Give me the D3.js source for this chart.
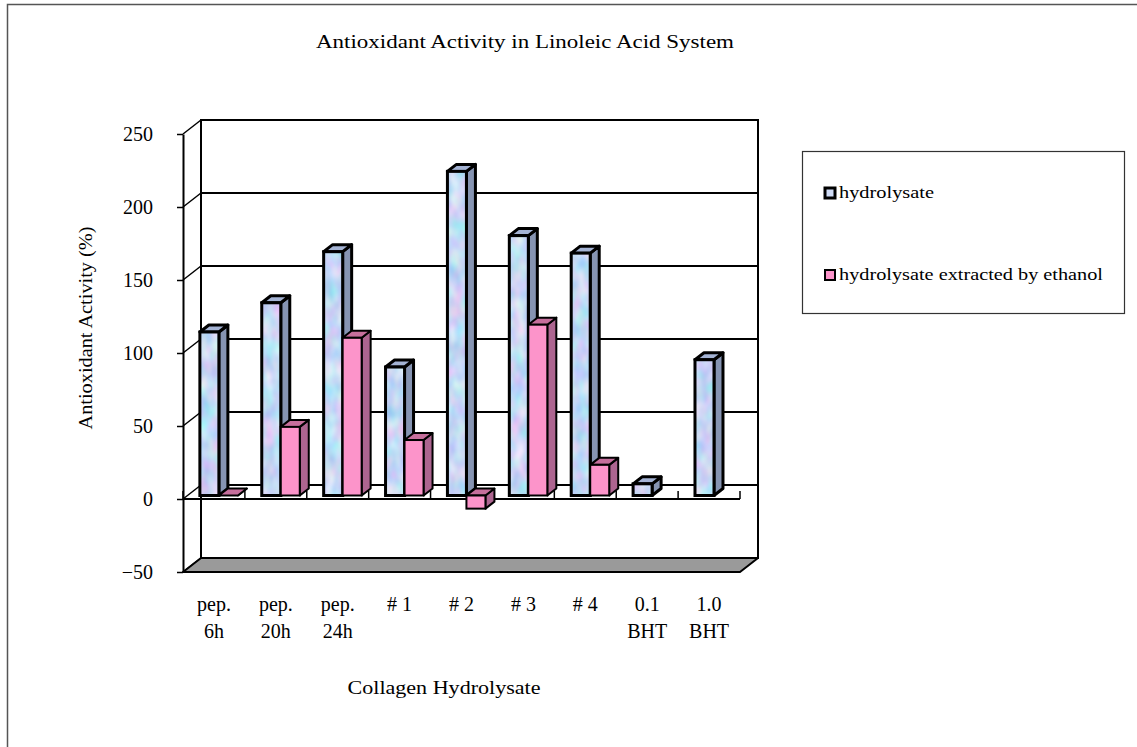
<!DOCTYPE html>
<html>
<head>
<meta charset="utf-8">
<script src="https://cdn.jsdelivr.net/npm/d3@7"></script>
<style>
  html, body { margin: 0; padding: 0; background: #fff; }
  svg { display: block; }
  text { font-family: "Liberation Serif", "Times New Roman", serif; fill: #000; }
</style>
</head>
<body>
<svg id="chart" width="1137" height="747"></svg>
<script>
// ---- data ----
const categories = ["pep.\n6h", "pep.\n20h", "pep.\n24h", "# 1", "# 2", "# 3", "# 4", "0.1\nBHT", "1.0\nBHT"];
const seriesNames = ["hydrolysate", "hydrolysate extracted by ethanol"];
const hydrolysate = [112, 132, 167, 88, 222, 178, 166, 8, 93];
const ethanolExtract = [0, 47, 108, 38, -9, 117, 21, null, null];
const yTicks = [-50, 0, 50, 100, 150, 200, 250];

const chartTitle = "Antioxidant Activity in Linoleic Acid System";
const yTitle = "Antioxidant Activity (%)";
const xTitle = "Collagen Hydrolysate";

// ---- setup ----
const svg = d3.select("#chart");
const defs = svg.append("defs");

// mottled pale blue / lavender fill for the hydrolysate bars
const f = defs.append("filter").attr("id", "mottle")
  .attr("x", 0).attr("y", 0).attr("width", 1).attr("height", 1)
  .attr("color-interpolation-filters", "sRGB");
f.append("feTurbulence").attr("type", "fractalNoise").attr("baseFrequency", "0.08 0.05")
  .attr("numOctaves", 2).attr("seed", 7).attr("result", "noise");
f.append("feColorMatrix").attr("in", "noise").attr("type", "matrix")
  .attr("values", "0.45 0 0 0 0.55  0 0.30 0 0 0.70  0 0 0.10 0 0.91  0 0 0 0 1")
  .attr("result", "tex");
f.append("feComposite").attr("in", "tex").attr("in2", "SourceAlpha").attr("operator", "in");

const palette = {
  hydrolysate: { front: "#d0dcf6", side: "#8694b2", top: "#a4b3d4", stroke: 3, tex: true },
  ethanol:     { front: "#fc94ca", side: "#ad6590", top: "#c66f9c", stroke: 2, tex: false }
};

// scales: front plane of the 3D box
const x = d3.scaleBand().domain(categories).range([183, 740]);
const y = d3.scaleLinear().domain([-50, 250]).range([572, 134]);
const depth = { dx: 18, dy: -14 };
const sub = d3.scaleBand().domain(seriesNames)
  .range([x.bandwidth() * 0.2, x.bandwidth() * 0.2 + x.bandwidth() * 0.614]);
const barShift = { dx: depth.dx * 0.25, dy: depth.dy * 0.25 };
const barDepth = { dx: 9, dy: -7 };

const xL = x.range()[0], xR = x.range()[1];
const bx = d => d + depth.dx, by = d => d + depth.dy;

// outer frame
svg.append("path").attr("d", "M7.5,747 V4.5 H1137")
  .attr("fill", "none").attr("stroke", "#555").attr("stroke-width", 1.5);

// title
svg.append("text").attr("x", 525).attr("y", 48).attr("text-anchor", "middle")
  .attr("font-size", 18).attr("textLength", 418).attr("lengthAdjust", "spacingAndGlyphs")
  .text(chartTitle);

// back wall
const wall = svg.append("g");
wall.append("rect").attr("x", bx(xL)).attr("y", by(y(250)))
  .attr("width", xR - xL).attr("height", y(-50) - y(250))
  .attr("fill", "#fff").attr("stroke", "#000").attr("stroke-width", 2);
wall.selectAll("line.grid").data(yTicks).join("line").attr("class", "grid")
  .attr("x1", bx(xL)).attr("x2", bx(xR))
  .attr("y1", d => by(y(d))).attr("y2", d => by(y(d)))
  .attr("stroke", "#000").attr("stroke-width", 2);
// side wall gridlines
wall.selectAll("line.side").data(yTicks).join("line").attr("class", "side")
  .attr("x1", xL).attr("y1", d => y(d)).attr("x2", bx(xL)).attr("y2", d => by(y(d)))
  .attr("stroke", "#000").attr("stroke-width", 1.5);

// floor slab
svg.append("polygon")
  .attr("points", [[xL, y(-50)], [xR, y(-50)], [bx(xR), by(y(-50))], [bx(xL), by(y(-50))]].join(" "))
  .attr("fill", "#9a9a9a").attr("stroke", "#000").attr("stroke-width", 2).attr("stroke-linejoin", "round");

// zero plane edge with category dividers
svg.append("line").attr("x1", xL).attr("x2", xR).attr("y1", y(0)).attr("y2", y(0))
  .attr("stroke", "#000").attr("stroke-width", 2);
const dividers = categories.map(c => x(c)).concat([xR]);
svg.selectAll("line.div").data(dividers).join("line").attr("class", "div")
  .attr("x1", d => d).attr("x2", d => d).attr("y1", y(0)).attr("y2", y(0) - 8)
  .attr("stroke", "#000").attr("stroke-width", 1.5);

// y axis
const yAxis = svg.append("g").attr("transform", `translate(${xL},0)`)
  .call(d3.axisLeft(y).tickValues(yTicks).tickSize(6).tickSizeOuter(0).tickPadding(24));
yAxis.select(".domain").attr("stroke", "#000").attr("stroke-width", 2);
yAxis.selectAll(".tick line").attr("stroke", "#000").attr("stroke-width", 1.5);
yAxis.selectAll(".tick text").attr("font-size", 20)
  .attr("font-family", "'Liberation Serif', serif").attr("fill", "#000");

// bars
const rows = categories.map((c, i) => [
  { cat: c, key: seriesNames[0], v: hydrolysate[i], sty: palette.hydrolysate },
  { cat: c, key: seriesNames[1], v: ethanolExtract[i], sty: palette.ethanol }
]).flat().filter(d => d.v !== null);

const bars = svg.append("g").selectAll("g").data(rows).join("g");
bars.each(function (d) {
  const g = d3.select(this);
  const x0 = x(d.cat) + sub(d.key) + barShift.dx;
  const w = sub.bandwidth();
  const yBase = y(0) + barShift.dy, yVal = y(d.v) + barShift.dy;
  const yt = Math.min(yBase, yVal), yb = Math.max(yBase, yVal);
  const s = d.sty;
  const pts = a => a.map(p => p.join(",")).join(" ");
  g.append("polygon")
    .attr("points", pts([[x0 + w, yt], [x0 + w + barDepth.dx, yt + barDepth.dy],
      [x0 + w + barDepth.dx, yb + barDepth.dy], [x0 + w, yb]]))
    .attr("fill", s.side).attr("stroke", "#000").attr("stroke-width", s.stroke).attr("stroke-linejoin", "round");
  g.append("polygon")
    .attr("points", pts([[x0, yt], [x0 + w, yt], [x0 + w + barDepth.dx, yt + barDepth.dy], [x0 + barDepth.dx, yt + barDepth.dy]]))
    .attr("fill", s.top).attr("stroke", "#000").attr("stroke-width", s.stroke).attr("stroke-linejoin", "round");
  if (yb - yt > 0.5) {
    g.append("rect").attr("x", x0).attr("y", yt).attr("width", w).attr("height", yb - yt)
      .attr("fill", s.front).attr("filter", s.tex ? "url(#mottle)" : null);
    g.append("rect").attr("x", x0).attr("y", yt).attr("width", w).attr("height", yb - yt)
      .attr("fill", "none").attr("stroke", "#000").attr("stroke-width", s.stroke);
  }
});

// category labels
const xAxis = svg.append("g").attr("transform", `translate(0,${y(-50)})`)
  .call(d3.axisBottom(x).tickSize(0).tickPadding(0));
xAxis.select(".domain").remove();
xAxis.selectAll(".tick text").each(function (d) {
  const t = d3.select(this).text(null).attr("font-size", 20)
    .attr("font-family", "'Liberation Serif', serif").attr("fill", "#000").attr("y", 0).attr("dy", null);
  d.split("\n").forEach((line, k) => {
    t.append("tspan").attr("x", 0).attr("y", 39 + k * 27).text(line);
  });
});

// axis titles
svg.append("text").attr("transform", "translate(92,328) rotate(-90)").attr("text-anchor", "middle")
  .attr("font-size", 18).attr("textLength", 203).attr("lengthAdjust", "spacingAndGlyphs")
  .text(yTitle);
svg.append("text").attr("x", 444).attr("y", 694).attr("text-anchor", "middle")
  .attr("font-size", 18).attr("textLength", 193).attr("lengthAdjust", "spacingAndGlyphs")
  .text(xTitle);

// legend
const legend = svg.append("g");
legend.append("rect").attr("x", 802.5).attr("y", 151.5).attr("width", 322).attr("height", 162)
  .attr("fill", "#fff").attr("stroke", "#333").attr("stroke-width", 1.2);
const legendItems = [
  { name: seriesNames[0], sty: palette.hydrolysate, y: 198, box: 10, len: 95 },
  { name: seriesNames[1], sty: palette.ethanol, y: 280, box: 10, len: 264 }
];
legendItems.forEach(it => {
  legend.append("rect").attr("x", 825).attr("y", it.y - it.box).attr("width", it.box).attr("height", it.box)
    .attr("fill", it.sty.front).attr("stroke", "#000").attr("stroke-width", it.sty.stroke);
  legend.append("text").attr("x", 839).attr("y", it.y).attr("font-size", 17)
    .attr("textLength", it.len).attr("lengthAdjust", "spacingAndGlyphs").text(it.name);
});
</script>
</body>
</html>
